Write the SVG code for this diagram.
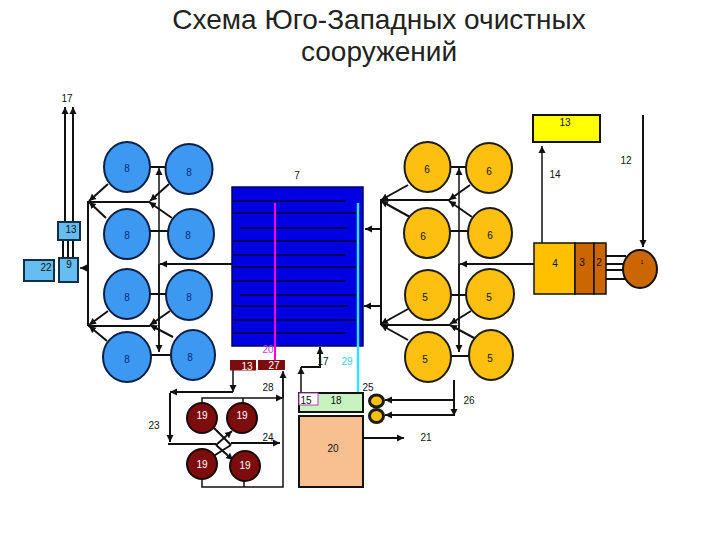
<svg xmlns="http://www.w3.org/2000/svg" width="720" height="540" viewBox="0 0 720 540">
<style>
text{font-family:"Liberation Sans",Arial,sans-serif;font-size:10px;text-anchor:middle;fill:#111}
.title{font-size:28px;fill:#222}
.c8{fill:#3d98f2;stroke:#0b1f45;stroke-width:2}
.c6{fill:#fdc010;stroke:#1c1c10;stroke-width:2}
.c19{fill:#7d0c0c;stroke:#1a0a0a;stroke-width:2}
.lb{fill:#66bdf2;stroke:#10304a;stroke-width:2}
.br{fill:#cc6600;stroke:#111;stroke-width:1.5}
.dr{fill:#7d0c0c;stroke:none}
.b8{fill:#0a2a80}
.w{fill:#fff}
.ln{fill:none;stroke:#111;stroke-width:1.5}
.th{fill:none;stroke:#111;stroke-width:2}
.a{marker-end:url(#ah)}
.ar{stroke:#000060;stroke-width:2}
</style>
<defs>
<marker id="ah" markerUnits="userSpaceOnUse" markerWidth="8" markerHeight="8" refX="7" refY="4" orient="auto"><path d="M0 0.5L7 4L0 7.5Z" fill="#111"/></marker>
</defs>
<text class="title" x="379" y="29">Схема Юго-Западных очистных</text>
<text class="title" x="379" y="61">сооружений</text>

<g id="connectors">
<path class="th a" d="M65 222V107"/><path class="th a" d="M73 222V107"/>
<path class="th" d="M63 240V258M68 240V258M73 240V258"/>
<path class="th" d="M88 326V202H150M88 326H150"/>
<path class="ln a" d="M159 352V168"/><path class="ln a" d="M159 264V352"/>
<path class="ln a" d="M88 268H80"/><path class="th a" d="M232 264H160"/>
<path class="th" d="M150 167H166M150 231H168M150 294H166M150 355H171"/>
<path class="th a" d="M108 184L89 201"/><path class="th a" d="M106 218L89 202"/>
<path class="th a" d="M169 184L150 201"/><path class="th a" d="M172 218L149 202"/>
<path class="th a" d="M108 311L89 325"/><path class="th a" d="M107 341L89 326"/>
<path class="th a" d="M170 311L150 325"/><path class="th a" d="M173 337L150 325"/>

<path class="th" d="M381 325V200H450M381 325H450"/>
<path class="ln a" d="M459 352V168"/><path class="th a" d="M534 264H460"/><path class="ln a" d="M459 264V352"/>
<path class="th a" d="M381 229H365"/><path class="th a" d="M381 306H364"/>
<path class="th" d="M450 167H466M450 231H468M450 295H466M450 356H469"/>
<path class="th a" d="M408 185L381 200"/><path class="th a" d="M410 217L381 201"/>
<path class="th a" d="M470 185L449 200"/><path class="th a" d="M472 217L449 201"/>
<path class="th a" d="M408 309L381 324"/><path class="th a" d="M408 340L381 325"/>
<path class="th a" d="M471 311L450 324"/><path class="th a" d="M476 339L450 325"/>

<path class="ln a" d="M542 243V146"/><path class="th a" d="M643 115V247"/>
<path class="th" d="M606 256H626M606 264H624M606 270H623M606 279H627"/>

<path class="ln a" d="M301 393V367"/>
<path class="th a" d="M301 367H320V347"/>
<path class="th a" d="M454 380V416"/>
<path class="th a" d="M453 400H385"/><path class="th a" d="M453 415H385"/>
<path class="th a" d="M362 438H404"/>

<path class="ln a" d="M233 370V392"/>
<path class="th a" d="M233 392H170"/>
<path class="th a" d="M170 393V442"/>
<path class="th" d="M168 444H216"/>
<path class="ln a" d="M202 403V398H283"/>
<path class="ln" d="M243 398V403M202 480V487H283V372M244 481V487"/>
<path class="ln a" d="M283 398V371"/>
<path class="th" d="M213 427L231 445M212 457L231 445"/>
<path class="th a" d="M216 445L233 460"/><path class="th a" d="M216 445L232 431"/>
<path class="th a" d="M231 443H280"/>
</g>

<g id="n7"><rect x="232" y="187" width="131" height="159" fill="#0000e0" stroke="#000060" stroke-width="1.5"/>
<path class="ar" d="M233 201H346M233 213H360M240 228H348M233 241H360M233 255H346M233 267H360M233 281H346M240 295H360M233 306H348M233 320H360M233 333H346"/>
<text x="297" y="179">7</text></g>
<g id="l20"><path d="M275 203V360" stroke="#ff00d8" stroke-width="2"/><text x="268" y="353" style="fill:#c040c0">20</text></g>
<g id="l29"><path d="M358 203V393" stroke="#33e0ff" stroke-width="2.500"/><text x="347" y="365" style="fill:#33d0e8">29</text></g>

<g id="n8a"><ellipse class="c8" cx="127" cy="167" rx="23" ry="25"/><text class="b8" x="127" y="172">8</text></g>
<g id="n8b"><ellipse class="c8" cx="189" cy="169" rx="23.500" ry="25"/><text class="b8" x="189" y="176">8</text></g>
<g id="n8c"><ellipse class="c8" cx="127" cy="234" rx="23" ry="25"/><text class="b8" x="127" y="239">8</text></g>
<g id="n8d"><ellipse class="c8" cx="191" cy="234" rx="23" ry="25"/><text class="b8" x="188" y="239">8</text></g>
<g id="n8e"><ellipse class="c8" cx="127" cy="294" rx="23" ry="25"/><text class="b8" x="127" y="301">8</text></g>
<g id="n8f"><ellipse class="c8" cx="189" cy="295" rx="23" ry="25"/><text class="b8" x="189" y="301">8</text></g>
<g id="n8g"><ellipse class="c8" cx="127" cy="357" rx="24" ry="25"/><text class="b8" x="127" y="363">8</text></g>
<g id="n8h"><ellipse class="c8" cx="193" cy="355" rx="22" ry="25"/><text class="b8" x="190" y="361">8</text></g>

<g id="n6a"><ellipse class="c6" cx="427.500" cy="167" rx="23" ry="25"/><text x="427" y="173">6</text></g>
<g id="n6b"><ellipse class="c6" cx="489" cy="168" rx="23" ry="25"/><text x="489" y="175">6</text></g>
<g id="n6c"><ellipse class="c6" cx="427" cy="233" rx="23" ry="25"/><text x="423" y="240">6</text></g>
<g id="n6d"><ellipse class="c6" cx="490" cy="233" rx="22" ry="25"/><text x="490" y="239">6</text></g>
<g id="n5a"><ellipse class="c6" cx="428" cy="295" rx="23" ry="25"/><text x="425" y="301">5</text></g>
<g id="n5b"><ellipse class="c6" cx="490" cy="294" rx="24" ry="25"/><text x="489" y="301">5</text></g>
<g id="n5c"><ellipse class="c6" cx="428" cy="357" rx="23" ry="25"/><text x="425" y="363">5</text></g>
<g id="n5d"><ellipse class="c6" cx="491" cy="355" rx="22" ry="25"/><text x="490" y="362">5</text></g>

<g id="n13l"><rect class="lb" x="58" y="222" width="22" height="18"/><text x="71" y="233">13</text></g>
<g id="n9"><rect class="lb" x="59" y="258" width="19" height="24"/><text x="69" y="268">9</text></g>
<g id="n22"><rect class="lb" x="24" y="260" width="30" height="21"/><text x="46" y="271">22</text></g>

<g id="n13r"><rect x="533" y="115" width="67" height="27" fill="#ffff00" stroke="#111" stroke-width="2"/><text x="565" y="126">13</text></g>
<g id="n4"><rect x="534" y="243" width="41" height="51" fill="#ffc000" stroke="#111" stroke-width="1.5"/><text x="555" y="267">4</text></g>
<g id="n3"><rect class="br" x="575" y="243" width="19" height="51"/><text x="582" y="266">3</text></g>
<g id="n2"><rect class="br" x="594" y="243" width="12" height="51"/><text x="599" y="266">2</text></g>
<g id="n1"><ellipse class="br" style="stroke-width:2" cx="640" cy="269" rx="17" ry="19"/><text x="642" y="264" style="font-size:6px">1</text></g>

<g id="n13d"><rect class="dr" x="230" y="360" width="26" height="10.500"/><text class="w" x="247" y="370">13</text></g>
<g id="n27"><rect class="dr" x="258" y="360" width="27" height="10"/><text class="w" x="274" y="369">27</text></g>

<g id="n18"><rect x="299" y="393" width="64" height="19" fill="#c8f2c0" stroke="#111" stroke-width="2"/><text x="336" y="404">18</text></g>
<g id="n15"><rect x="299" y="393" width="19" height="12" fill="#fff" stroke="#b040b0"/><text x="306" y="404">15</text></g>
<g id="n20"><rect x="299" y="416" width="64" height="71" fill="#f8c090" stroke="#111" stroke-width="2"/><text x="333" y="452">20</text></g>
<g id="n25a"><ellipse class="c6" style="stroke-width:3" cx="376.500" cy="401" rx="7" ry="6"/></g>
<g id="n25b"><ellipse class="c6" style="stroke-width:3" cx="376.500" cy="416" rx="7" ry="6.500"/></g>

<g id="n19a"><circle class="c19" cx="202" cy="418" r="15"/><text class="w" x="202" y="419">19</text></g>
<g id="n19b"><circle class="c19" cx="242" cy="418" r="15"/><text class="w" x="242" y="419">19</text></g>
<g id="n19c"><circle class="c19" cx="202" cy="464" r="15"/><text class="w" x="202" y="468">19</text></g>
<g id="n19d"><circle class="c19" cx="245" cy="466" r="15"/><text class="w" x="245" y="469">19</text></g>

<g id="labels">
<text x="67" y="102">17</text>
<text x="626" y="164">12</text>
<text x="555" y="178">14</text>
<text x="323" y="365">17</text>
<text x="268" y="391">28</text>
<text x="368" y="391">25</text>
<text x="469" y="404">26</text>
<text x="426" y="441">21</text>
<text x="154" y="429">23</text>
<text x="268" y="441">24</text>
</g>
</svg>
